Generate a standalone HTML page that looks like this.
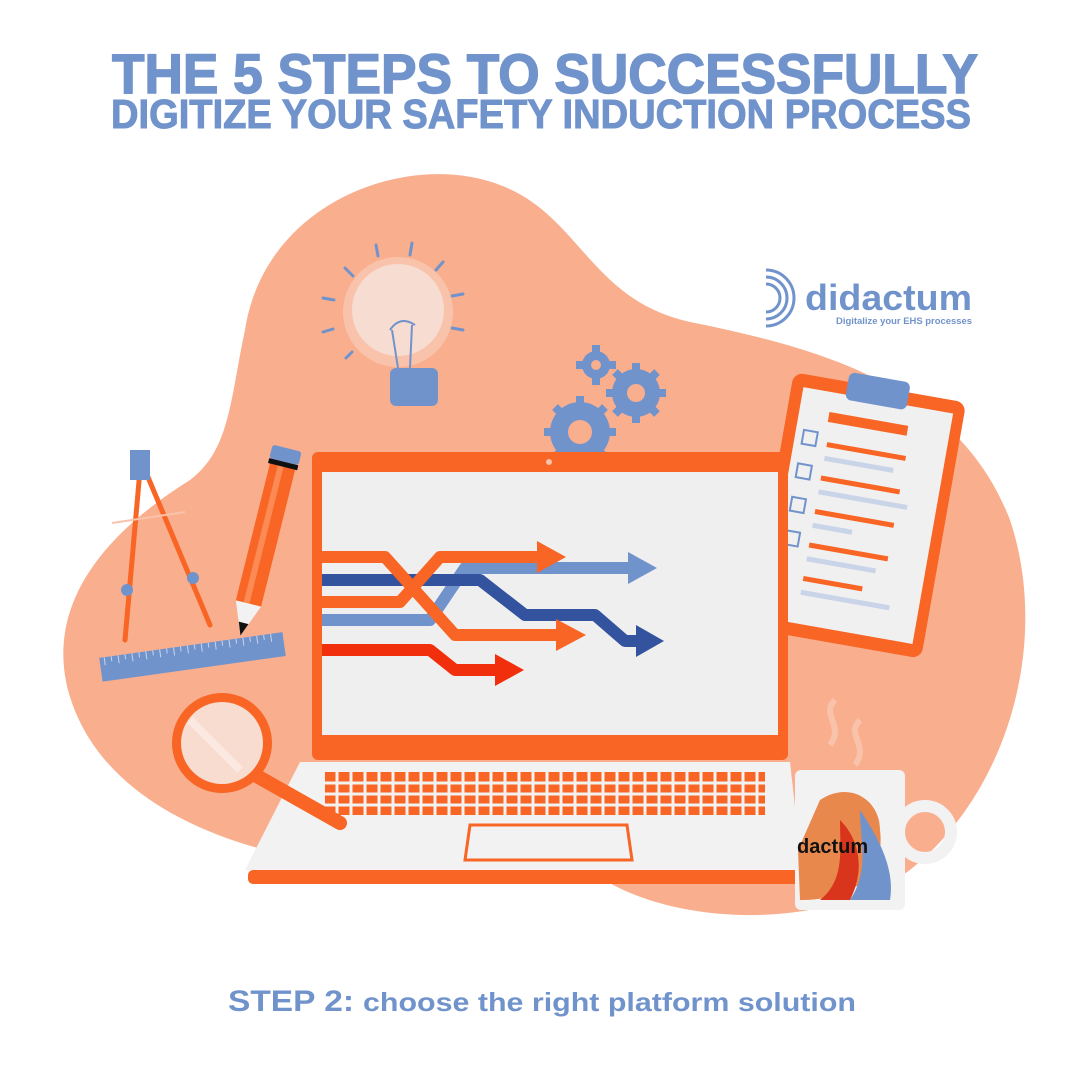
<!DOCTYPE html>
<html><head><meta charset="utf-8"><style>
html,body{margin:0;padding:0;background:#fff;}
svg{display:block;}
text{font-family:"Liberation Sans",sans-serif;font-weight:bold;}
</style></head><body>
<svg width="1081" height="1081" viewBox="0 0 1081 1081" xmlns="http://www.w3.org/2000/svg">
<rect width="1081" height="1081" fill="#fff"/>
<text x="545" y="93" text-anchor="middle" font-size="56" fill="#7193cc" stroke="#7193cc" stroke-width="1.5" textLength="866" lengthAdjust="spacingAndGlyphs">THE 5 STEPS TO SUCCESSFULLY</text>
<text x="541" y="128" text-anchor="middle" font-size="41" fill="#7193cc" stroke="#7193cc" stroke-width="1" textLength="860" lengthAdjust="spacingAndGlyphs">DIGITIZE YOUR SAFETY INDUCTION PROCESS</text>

<!-- blob -->
<path d="M245 330 C265 200 410 150 500 185 C580 215 590 300 690 322 C830 350 960 390 1010 520 C1050 640 1010 790 910 870 C820 935 660 925 590 870 L310 860 C200 840 95 790 68 690 C45 600 110 530 190 480 C230 450 230 400 245 330 Z" fill="#f9ae8e"/>

<!-- logo -->
<g fill="none" stroke="#7193cc" stroke-width="3">
<path d="M766 284 a14 14 0 0 1 0 28"/><path d="M766 277 a21 21 0 0 1 0 42"/><path d="M766 270 a28 28 0 0 1 0 56"/>
</g>
<text x="805" y="310" font-size="36" fill="#7193cc" textLength="167" lengthAdjust="spacingAndGlyphs">didactum</text>
<text x="836" y="324" font-size="9" fill="#7193cc" textLength="136" lengthAdjust="spacingAndGlyphs">Digitalize your EHS processes</text>

<!-- bulb -->
<g stroke="#7193cc" stroke-width="3" stroke-linecap="round">
<line x1="345" y1="268" x2="353" y2="276"/><line x1="376" y1="245" x2="378" y2="256"/><line x1="412" y1="243" x2="410" y2="255"/><line x1="443" y1="262" x2="436" y2="270"/>
<line x1="323" y1="298" x2="334" y2="300"/><line x1="323" y1="332" x2="333" y2="329"/><line x1="346" y1="358" x2="352" y2="352"/>
<line x1="452" y1="296" x2="463" y2="294"/><line x1="452" y1="328" x2="463" y2="330"/>
</g>
<circle cx="398" cy="312" r="55" fill="#f9c3ab"/>
<circle cx="398" cy="310" r="46" fill="#f7dcd2"/>
<rect x="390" y="368" width="48" height="38" rx="6" fill="#7193cc"/>
<path d="M398 368 L392 330 M410 368 L412 325 M390 330 q10 -15 25 -5" stroke="#7193cc" stroke-width="2" fill="none"/>

<!-- gears -->
<g fill="#7193cc">
<circle cx="596" cy="365" r="14"/><circle cx="636" cy="393" r="24"/><circle cx="580" cy="432" r="30"/>
<g stroke="#7193cc" stroke-width="8">
<line x1="596" y1="345" x2="596" y2="385"/><line x1="576" y1="365" x2="616" y2="365"/>
<line x1="636" y1="363" x2="636" y2="423"/><line x1="606" y1="393" x2="666" y2="393"/><line x1="615" y1="372" x2="657" y2="414"/><line x1="657" y1="372" x2="615" y2="414"/>
<line x1="580" y1="396" x2="580" y2="468"/><line x1="544" y1="432" x2="616" y2="432"/><line x1="555" y1="407" x2="605" y2="457"/><line x1="605" y1="407" x2="555" y2="457"/>
</g>
</g>
<circle cx="596" cy="365" r="5" fill="#f9ae8e"/><circle cx="636" cy="393" r="9" fill="#f9ae8e"/><circle cx="580" cy="432" r="12" fill="#f9ae8e"/>

<!-- clipboard -->
<g transform="rotate(10 855 515)">
<rect x="770" y="385" width="175" height="260" rx="10" fill="#f86524"/>
<rect x="782" y="398" width="152" height="234" fill="#f0f0f0"/>
<rect x="825" y="375" width="62" height="28" rx="6" fill="#7193cc"/>
<rect x="812" y="418" width="80" height="10" fill="#f86524"/>
<g fill="#f86524"><rect x="815" y="448" width="80" height="5"/><rect x="815" y="482" width="80" height="5"/><rect x="815" y="516" width="80" height="5"/><rect x="815" y="550" width="80" height="5"/><rect x="815" y="584" width="60" height="5"/></g>
<g fill="#c9d4e8"><rect x="815" y="462" width="70" height="5"/><rect x="815" y="496" width="90" height="5"/><rect x="815" y="530" width="40" height="5"/><rect x="815" y="564" width="70" height="5"/><rect x="815" y="598" width="90" height="5"/></g>
<g fill="none" stroke="#7193cc" stroke-width="2"><rect x="790" y="440" width="14" height="14"/><rect x="790" y="474" width="14" height="14"/><rect x="790" y="508" width="14" height="14"/><rect x="790" y="542" width="14" height="14"/></g>
</g>

<!-- compass -->
<g stroke="#f86524" stroke-width="5" fill="none" stroke-linecap="round">
<line x1="140" y1="470" x2="125" y2="640"/><line x1="145" y1="470" x2="210" y2="625"/>
</g>
<rect x="130" y="450" width="20" height="30" fill="#7193cc"/>
<circle cx="127" cy="590" r="6" fill="#7193cc"/><circle cx="193" cy="578" r="6" fill="#7193cc"/>
<line x1="112" y1="523" x2="185" y2="512" stroke="#f9c3ab" stroke-width="2"/>

<!-- pencil -->
<g transform="rotate(14 262 545)">
<rect x="250" y="455" width="26" height="150" fill="#f86524"/>
<rect x="258" y="455" width="6" height="150" fill="#fb8a55"/>
<rect x="248" y="445" width="30" height="14" rx="3" fill="#7193cc"/>
<rect x="248" y="459" width="30" height="5" fill="#111"/>
<path d="M250 605 L276 605 L263 638 Z" fill="#f2f2f2"/>
<path d="M258 625 L268 625 L263 638 Z" fill="#111"/>
</g>

<!-- ruler -->
<g transform="rotate(-8 192 657)">
<rect x="100" y="645" width="185" height="24" fill="#7193cc"/>
<g stroke="#c9d4e8" stroke-width="1"><path d="M105 645v8M112 645v5M119 645v8M126 645v5M133 645v8M140 645v5M147 645v8M154 645v5M161 645v8M168 645v5M175 645v8M182 645v5M189 645v8M196 645v5M203 645v8M210 645v5M217 645v8M224 645v5M231 645v8M238 645v5M245 645v8M252 645v5M259 645v8M266 645v5M273 645v8"/></g>
</g>

<!-- laptop -->
<rect x="312" y="452" width="476" height="308" rx="6" fill="#f86524"/>
<rect x="322" y="472" width="456" height="263" fill="#efefef"/>
<circle cx="549" cy="462" r="3" fill="#f9c3ab"/>
<path d="M300 762 L790 762 L802 870 L245 870 Z" fill="#f2f2f2"/>
<rect x="248" y="870" width="552" height="14" rx="5" fill="#f86524"/>
<rect x="325" y="772" width="440" height="43" fill="#f86524"/>
<g stroke="#f2f2f2" stroke-width="3">
<path d="M320 783H770M320 794H770M320 805H770"/>
<path d="M337 770V817M351 770V817M365 770V817M379 770V817M393 770V817M407 770V817M421 770V817M435 770V817M449 770V817M463 770V817M477 770V817M491 770V817M505 770V817M519 770V817M533 770V817M547 770V817M561 770V817M575 770V817M589 770V817M603 770V817M617 770V817M631 770V817M645 770V817M659 770V817M673 770V817M687 770V817M701 770V817M715 770V817M729 770V817M743 770V817M757 770V817"/>
</g>
<path d="M470 825 L627 825 L632 860 L465 860 Z" fill="none" stroke="#f86524" stroke-width="3"/>

<!-- arrows -->
<g fill="none" stroke-width="12" stroke-linejoin="round">
<path d="M322 620 L430 620 L465 568 L630 568" stroke="#7193cc"/>
<path d="M322 580 L480 580 L525 615 L595 615 L625 641 L640 641" stroke="#33539e"/>
<path d="M322 557 L385 557 L455 635 L560 635" stroke="#f86524"/>
<path d="M322 602 L400 602 L440 557 L540 557" stroke="#f86524"/>
<path d="M322 650 L430 650 L455 670 L498 670" stroke="#f22f0c"/>
</g>
<path d="M628 552 L657 568 L628 584Z" fill="#7193cc"/>
<path d="M636 625 L664 641 L636 657Z" fill="#33539e"/>
<path d="M556 619 L586 635 L556 651Z" fill="#f86524"/>
<path d="M537 541 L566 557 L537 573Z" fill="#f86524"/>
<path d="M495 654 L524 670 L495 686Z" fill="#f22f0c"/>

<!-- magnifier -->
<line x1="255" y1="775" x2="340" y2="823" stroke="#f86524" stroke-width="14" stroke-linecap="round"/>
<circle cx="222" cy="743" r="50" fill="#f86524"/>
<circle cx="222" cy="743" r="41" fill="#f9dcd0"/>
<path d="M190 720 L240 770" stroke="#fbe8e0" stroke-width="8"/>

<!-- mug -->
<circle cx="925" cy="832" r="26" fill="none" stroke="#f2f2f2" stroke-width="12"/>
<rect x="795" y="770" width="110" height="140" rx="6" fill="#f2f2f2"/>
<path d="M820 800 C850 780 880 800 880 830 C885 870 860 900 800 900 L798 850 Z" fill="#e8884c"/>
<path d="M860 810 C880 840 895 870 890 900 L850 900 C870 870 860 840 860 810Z" fill="#7193cc"/>
<path d="M840 820 C860 840 865 870 850 900 L820 900 C845 880 840 850 840 820Z" fill="#d9341c"/>
<text x="797" y="853" font-size="20" fill="#111">dactum</text>
<path d="M835 700 c-15 15 10 25 -5 45" stroke="#f9c3ab" stroke-width="6" fill="none"/>
<path d="M860 720 c-15 15 10 25 -5 45" stroke="#f9c3ab" stroke-width="6" fill="none"/>

<text x="228" y="1011" font-size="30" fill="#7193cc" textLength="126" lengthAdjust="spacingAndGlyphs">STEP 2:</text>
<text x="363" y="1011" font-size="26" fill="#7193cc" textLength="493" lengthAdjust="spacingAndGlyphs">choose the right platform solution</text>
</svg>
</body></html>
